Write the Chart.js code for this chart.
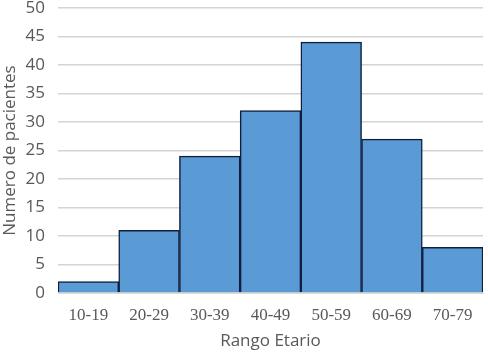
<!DOCTYPE html>
<html>
<head>
<meta charset="utf-8">
<script src="https://cdn.jsdelivr.net/npm/chart.js@4.4.0/dist/chart.umd.min.js"></script>
<style>
  html, body { margin: 0; padding: 0; background: #fff; }
  #wrap { width: 488px; height: 355px; }
</style>
</head>
<body>
<div id="wrap"><canvas id="c" width="488" height="355"></canvas></div>
<script>
// age ranges and patient counts
var categories = ["10-19", "20-29", "30-39", "40-49", "50-59", "60-69", "70-79"];
var patients = [2, 11, 24, 32, 44, 27, 8];
var yMax = 50;
var yStep = 5;

var chart = new Chart(document.getElementById("c"), {
    type: "bar",
    data: {
        labels: categories,
        datasets: [{
            data: patients,
            backgroundColor: "#5b9bd5",
            borderColor: "#0f1f3d",
            borderWidth: 1.5,
            barPercentage: 1.0,
            categoryPercentage: 1.0
        }]
    },
    options: {
        responsive: false,
        animation: false,
        layout: { padding: { top: 0, right: 5, left: 0, bottom: 0 } },
        plugins: { legend: { display: false }, tooltip: { enabled: false } },
        scales: {
            x: {
                grid: { display: false },
                border: { display: true, color: "#d9d9d9" },
                ticks: {
                    color: "#595959",
                    font: { family: "Liberation Serif", size: 17 },
                    padding: 4,
                    maxRotation: 0
                },
                title: {
                    display: true,
                    text: "Rango Etario",
                    color: "#595959",
                    font: { family: "Open Sans", size: 17 },
                    padding: { top: 4 }
                },
                afterFit: function(s) { s.height = 62; }
            },
            y: {
                min: 0,
                max: yMax,
                ticks: {
                    stepSize: yStep,
                    color: "#595959",
                    font: { family: "Open Sans", size: 17 },
                    padding: 13
                },
                grid: { color: "#d4d4d4", lineWidth: 1.5, drawTicks: false },
                border: { display: false },
                title: {
                    display: true,
                    text: "Numero de pacientes",
                    color: "#595959",
                    font: { family: "Open Sans", size: 17 },
                    padding: { top: 0, bottom: 0 }
                },
                afterFit: function(s) {
                    s.width = 58;
                    s.paddingTop = 8;
                }
            }
        }
    }
});
</script>
</body>
</html>
